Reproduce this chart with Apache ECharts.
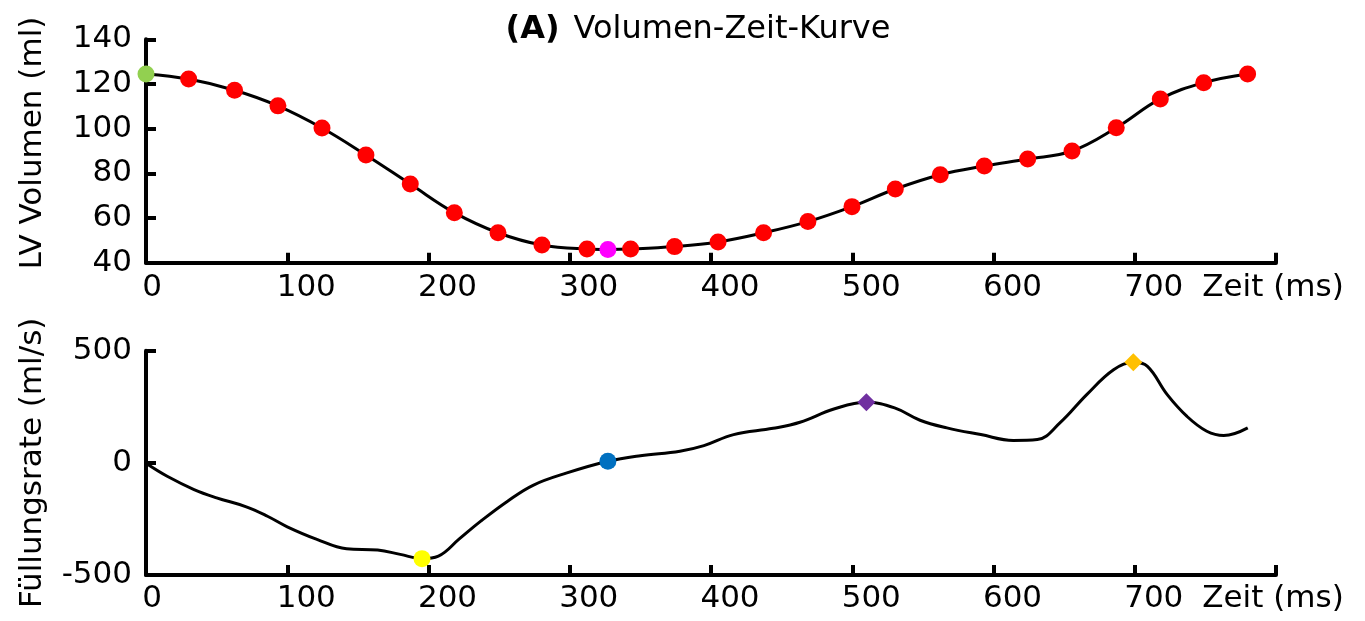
<!DOCTYPE html>
<html><head><meta charset="utf-8">
<script src="https://cdn.jsdelivr.net/npm/echarts@6/dist/echarts.min.js"></script>
<style>html,body{margin:0;padding:0;background:#fff}#c{width:1365px;height:621px}</style>
</head><body><div id="c"></div>
<script>
// ---- data ----
const timeTicks = [0, 100, 200, 300, 400, 500, 600, 700, 800];
const timeAxisName = 'Zeit (ms)';
const volumeTicks = [40, 60, 80, 100, 120, 140];
const rateTicks = [-500, 0, 500];
const titleBold = '(A)';
const titleText = 'Volumen-Zeit-Kurve';
const volumeName = 'LV Volumen (ml)';
const rateName = 'Füllungsrate (ml/s)';

// red sample points of the volume curve
const sampleTime = [30.2, 62.7, 93.4, 124.6, 155.7, 187.1, 218.3, 249.2, 280.3, 312.2, 343.1, 374.2, 405, 437.2, 468.6, 499.8, 530.5, 562.3, 593.5, 624.2, 655.6, 686.9, 718.1, 748.8, 779.9];
const sampleVolume = [122.2, 117.2, 110.2, 100.3, 88.2, 75.2, 62.4, 53.4, 47.9, 46.1, 46.1, 47.2, 49.3, 53.4, 58.4, 65.1, 73.0, 79.4, 83.3, 86.4, 90.0, 100.4, 113.3, 120.6, 124.5];
const edvPoint = [0, 124.5];     // green
const esvPoint = [327, 45.9];    // magenta

// filling-rate curve
const rateTime = [0, 15, 34, 50, 71, 86, 100, 121, 142, 164, 180, 195.4, 207, 222, 237, 256, 274, 298, 327, 350, 378, 395, 416, 444, 463, 487, 510, 530, 548, 567, 591, 614, 631, 647, 666, 685, 699, 709, 723, 737, 751, 763, 780];
const rateValue = [-2, -60, -119, -156, -196, -238, -285, -341, -383, -389, -408, -427, -416, -338, -260, -171, -100, -45, 7, 32, 52, 77, 126, 154, 181, 240, 270, 245, 190, 156, 126, 100, 104, 178, 304, 415, 448, 430, 304, 207, 141, 122, 156];
const peakEjectionPoint = [195.4, -427]; // yellow
const zeroCrossPoint = [327, 7];          // blue
const peakEPoint = [510, 270];            // purple
const peakAPoint = [699, 448];            // orange

// ---- chart ----
const FONT = 'DejaVu Sans';
const volLine = [edvPoint].concat(sampleTime.map((t, i) => [t, sampleVolume[i]]));
volLine.push(esvPoint);
volLine.sort((a, b) => a[0] - b[0]);
const redPts = sampleTime.map((t, i) => [t, sampleVolume[i]]);
const rateLine = rateTime.map((t, i) => [t, rateValue[i]]);

function xAxisCfg(gridIndex, margin) {
  return {
    type: 'value', gridIndex, min: timeTicks[0], max: timeTicks[timeTicks.length - 1],
    interval: timeTicks[1] - timeTicks[0],
    axisLine: { show: true, onZero: false, lineStyle: { color: '#000', width: 4 } },
    axisTick: { show: true, inside: true, length: 10, lineStyle: { color: '#000', width: 4 } },
    splitLine: { show: false },
    axisLabel: {
      show: true, margin, showMinLabel: true, showMaxLabel: true, hideOverlap: false,
      formatter: v => v === timeTicks[0] ? '{a|' + v + '}' : (v === timeTicks[timeTicks.length - 1] ? '{z|' + timeAxisName + '}' : '{n|' + v + '}'),
      rich: {
        a: { fontFamily: FONT, fontSize: 31, color: '#000', padding: [0, 0, 0, 12] },
        n: { fontFamily: FONT, fontSize: 31, color: '#000', padding: [0, 0, 0, 38] },
        z: { fontFamily: FONT, fontSize: 31, color: '#000', padding: [0, 6, 0, 0] }
      }
    }
  };
}
function yAxisCfg(gridIndex, ticks, name, nameGap, namePad) {
  return {
    type: 'value', gridIndex, min: ticks[0], max: ticks[ticks.length - 1], interval: ticks[1] - ticks[0],
    name, nameLocation: 'middle', nameRotate: 90, nameGap,
    nameTextStyle: { fontFamily: FONT, fontSize: 31, color: '#000', padding: namePad },
    axisLine: { show: true, onZero: false, lineStyle: { color: '#000', width: 4 } },
    axisTick: { show: true, inside: true, length: 10, lineStyle: { color: '#000', width: 4 } },
    splitLine: { show: false },
    axisLabel: { show: true, margin: 14, fontFamily: FONT, fontSize: 31, color: '#000', showMinLabel: true, showMaxLabel: true }
  };
}
const dot = (color) => ({ color, opacity: 1 });

const chart = echarts.init(document.getElementById('c'), null, { renderer: 'canvas' });
chart.setOption({
  animation: false,
  backgroundColor: '#fff',
  title: {
    text: '{b|' + titleBold + '}{s| }{n|' + titleText + '}',
    left: 698, top: 14, textAlign: 'center', padding: 0,
    textStyle: {
      fontWeight: 'normal',
      rich: {
        b: { fontFamily: FONT, fontSize: 32, fontWeight: 'bold', color: '#000' },
        s: { fontFamily: FONT, fontSize: 32, fontWeight: 'normal', color: '#000', width: 14 },
        n: { fontFamily: FONT, fontSize: 32, fontWeight: 'normal', color: '#000' }
      }
    }
  },
  grid: [
    { left: 146, top: 39.3, width: 1130, height: 223.4, outerBoundsMode: 'none', containLabel: false },
    { left: 146, top: 350.7, width: 1130, height: 224.3, outerBoundsMode: 'none', containLabel: false }
  ],
  xAxis: [xAxisCfg(0, 10), xAxisCfg(1, 8)],
  yAxis: [yAxisCfg(0, volumeTicks, volumeName, 98, [0, 0, 0, 16]), yAxisCfg(1, rateTicks, rateName, 98, [0, 0, 0, 0])],
  series: [
    { type: 'line', xAxisIndex: 0, yAxisIndex: 0, data: volLine, smooth: 0.4, showSymbol: false, symbol: 'none',
      lineStyle: { color: '#000', width: 3 }, z: 3, clip: false },
    { type: 'scatter', xAxisIndex: 0, yAxisIndex: 0, data: redPts, symbol: 'circle', symbolSize: 17,
      itemStyle: dot('#ff0000'), z: 4, clip: false },
    { type: 'scatter', xAxisIndex: 0, yAxisIndex: 0, data: [edvPoint], symbol: 'circle', symbolSize: 17,
      itemStyle: dot('#92d050'), z: 4, clip: false },
    { type: 'scatter', xAxisIndex: 0, yAxisIndex: 0, data: [esvPoint], symbol: 'circle', symbolSize: 17,
      itemStyle: dot('#ff00ff'), z: 4, clip: false },
    { type: 'line', xAxisIndex: 1, yAxisIndex: 1, data: rateLine, smooth: 0.4, showSymbol: false, symbol: 'none',
      lineStyle: { color: '#000', width: 3 }, z: 3, clip: false },
    { type: 'scatter', xAxisIndex: 1, yAxisIndex: 1, data: [peakEjectionPoint], symbol: 'circle', symbolSize: 17,
      itemStyle: dot('#ffff00'), z: 4, clip: false },
    { type: 'scatter', xAxisIndex: 1, yAxisIndex: 1, data: [zeroCrossPoint], symbol: 'circle', symbolSize: 17,
      itemStyle: dot('#0070c0'), z: 4, clip: false },
    { type: 'scatter', xAxisIndex: 1, yAxisIndex: 1, data: [peakEPoint], symbol: 'diamond', symbolSize: 18,
      itemStyle: dot('#7030a0'), z: 4, clip: false },
    { type: 'scatter', xAxisIndex: 1, yAxisIndex: 1, data: [peakAPoint], symbol: 'diamond', symbolSize: 18,
      itemStyle: dot('#ffc000'), z: 4, clip: false }
  ]
});
</script></body></html>
